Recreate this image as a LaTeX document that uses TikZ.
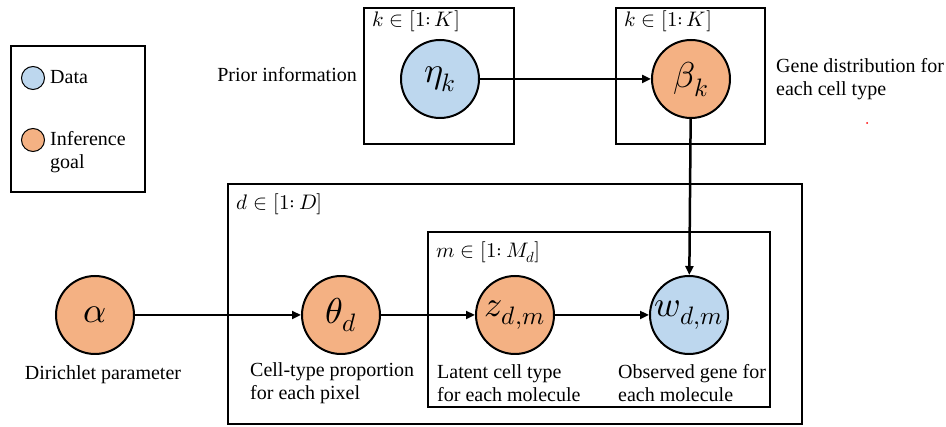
\documentclass[tikz,border=0pt]{standalone}
\usepackage{fontspec}
\usepackage{unicode-math}
\setmainfont{Liberation Serif}
\setmathfont{Latin Modern Math}
\usepackage{tikz}
\usetikzlibrary{arrows.meta,positioning,shapes}

\definecolor{datablue}{RGB}{189,215,238}
\definecolor{goalorange}{RGB}{244,177,131}

\begin{document}
\begin{tikzpicture}[x=1pt,y=-1pt,
	var/.style={circle, draw, line width=2pt, minimum size=78pt, inner sep=0pt,
		font=\fontsize{36}{38}\selectfont},
	obs/.style={var, fill=datablue},
	goal/.style={var, fill=goalorange},
	plate/.style={draw, line width=2pt},
	platelabel/.style={anchor=west, inner sep=0pt, font=\fontsize{21}{23}\selectfont},
	caption/.style={align=left, inner sep=0pt, font=\fontsize{20}{23}\selectfont},
	edge/.style={line width=2.5pt, -{Triangle[length=9pt,width=8pt]}}]
\useasboundingbox (0,0) rectangle (946,427);

% legend
\draw[plate] (11,46) rectangle (145,192);
\node[obs, minimum size=23pt, line width=1pt] (legdata) at (33,78) {};
\node[goal, minimum size=23pt, line width=1pt] (leggoal) at (33,140) {};
\node[caption, anchor=west] (legdatatext) at (50,77) {Data};
\node[caption, anchor=west] (leggoaltext) at (50,152) {Inference\\goal};

% plates
\draw[plate] (364,8) rectangle (514,144);
\draw[plate] (616,8) rectangle (765,144);
\draw[plate] (228,184) rectangle (802,424);
\draw[plate] (428,232) rectangle (770,407);
\node[platelabel] (klabA) at (372,21) {$k\in[1{:}\,K]$};
\node[platelabel] (klabB) at (624,21) {$k\in[1{:}\,K]$};
\node[platelabel] (dlab) at (236,204) {$d\in[1{:}\,D]$};
\node[platelabel] (mlab) at (436,252) {$m\in[1{:}\,M_d]$};

% variables
\node[obs] (eta) at (440,79) {$\eta_k$};
\node[goal] (beta) at (691,79) {$\beta_k$};
\node[goal] (alpha) at (95,315) {$\alpha$};
\node[goal] (theta) at (341,315) {$\theta_d$};
\node[goal] (z) at (515,315) {$z_{d,m}$};
\node[obs] (w) at (689,315) {$w_{d,m}$};

% edges
\draw[edge] (eta) -- (beta);
\draw[edge] (beta) -- (w);
\draw[edge] (alpha) -- (theta);
\draw[edge] (theta) -- (z);
\draw[edge] (z) -- (w);

% captions
\node[caption, anchor=east] (priortext) at (357,75) {Prior information};
\node[caption, anchor=west] (genetext) at (776,79) {Gene distribution for\\each cell type};
\node[caption] (alphatext) at (103,375) {Dirichlet parameter};
\node[caption, anchor=west] (thetatext) at (250,383) {Cell-type proportion\\for each pixel};
\node[caption, anchor=west] (ztext) at (437,383) {Latent cell type\\for each molecule};
\node[caption, anchor=west] (wtext) at (618,383) {Observed gene for\\each molecule};
\fill[red] (867,123) circle (1pt);
\end{tikzpicture}
\end{document}
